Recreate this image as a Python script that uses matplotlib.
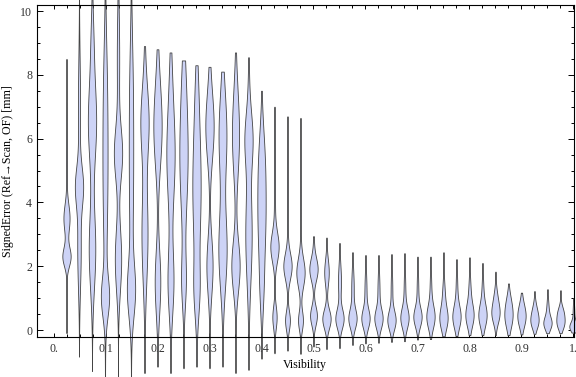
import numpy as np
import matplotlib
matplotlib.use("Agg")
import matplotlib.pyplot as plt

# ---- data ----
visibility = [0.025 * k for k in range(1, 41)]

err_min = [-0.10, -0.85, -1.30, -1.50, -1.55, -1.55, -1.35, -1.15, -1.35, -1.20,
           -1.15, -1.20, -1.15, -1.35, -1.25, -0.90, -0.73, -0.65, -0.75, -0.52,
           -0.60, -0.57, -0.47, -0.42, -0.40, -0.37, -0.35, -0.30, -0.28, -0.20,
           -0.19, -0.16, -0.16, -0.16, -0.16, -0.14, -0.12, -0.10, -0.10, -0.08]
err_max = [8.50, 11.5, 12.0, 12.0, 12.0, 12.0, 8.90, 8.80, 8.70, 8.45,
           8.30, 8.25, 8.10, 8.70, 8.55, 7.50, 7.00, 6.70, 6.65, 2.94,
           2.90, 2.73, 2.44, 2.35, 2.35, 2.38, 2.41, 2.30, 2.30, 2.44,
           2.22, 2.28, 2.10, 1.83, 1.46, 1.17, 1.22, 1.28, 1.25, 1.00]

# density modes (location, spread, relative weight) per bin
mode1_loc = [2.3, 4.5, 6.5, 1.0, 5.5, 1.2, 6.5, 6.3, 5.5, 5.5,
             4.5, 6.3, 6.0, 2.0, 6.0, 3.5, 2.6, 2.0, 1.8, 1.9,
             1.8, 0.35, 0.35, 0.35, 0.35, 0.30, 0.37, 0.40, 0.40, 0.35,
             0.40, 0.45, 0.45, 0.50, 0.40, 0.35, 0.45, 0.20, 0.20, 0.10]
mode1_sd = [0.30, 0.6, 1.2, 0.6, 0.8, 0.8, 1.0, 1.2, 1.5, 1.8,
            2.0, 1.0, 1.2, 0.8, 0.8, 1.4, 0.45, 0.40, 0.45, 0.35,
            0.40, 0.30, 0.30, 0.30, 0.30, 0.30, 0.32, 0.30, 0.35, 0.35,
            0.35, 0.35, 0.35, 0.30, 0.35, 0.30, 0.30, 0.20, 0.20, 0.15]
mode1_w = [1.0, 1.0, 1.0, 1.0, 1.0, 1.0, 1.0, 1.0, 1.0, 1.0,
           1.0, 1.0, 0.9, 1.0, 1.0, 1.0, 1.0, 1.0, 1.0, 1.0,
           0.5, 1.0, 1.0, 1.0, 1.0, 1.0, 1.0, 1.0, 1.0, 1.0,
           1.0, 1.0, 1.0, 1.0, 1.0, 1.0, 1.0, 1.0, 1.0, 1.0]
mode2_loc = [3.5, 2.5, 2.5, 5.0, 2.2, 5.0, 3.0, 1.5, 1.5, 1.5,
             1.2, 2.0, 2.5, 6.0, 3.0, 5.5, 0.4, 0.3, 0.3, 0.45,
             0.35, 1.5, 1.3, 1.2, 1.2, 1.2, 1.2, 1.2, 1.2, 1.1,
             1.2, 1.2, 1.2, 1.0, 0.9, 0.7, 0.2, 0.6, 0.55, 0.5]
mode2_sd = [0.45, 1.2, 1.2, 2.5, 1.0, 2.5, 1.5, 1.0, 1.0, 0.8,
            0.8, 0.9, 1.2, 1.2, 1.5, 1.0, 0.35, 0.30, 0.30, 0.30,
            0.30, 0.5, 0.5, 0.5, 0.5, 0.5, 0.5, 0.5, 0.5, 0.4,
            0.5, 0.4, 0.4, 0.3, 0.3, 0.3, 0.2, 0.3, 0.2, 0.3]
mode2_w = [0.75, 0.5, 0.8, 0.7, 0.8, 0.6, 0.8, 0.7, 0.7, 0.5,
           0.5, 0.8, 1.0, 0.8, 0.9, 0.5, 0.55, 0.6, 0.6, 0.85,
           1.0, 0.35, 0.3, 0.25, 0.25, 0.2, 0.2, 0.2, 0.2, 0.3,
           0.2, 0.25, 0.2, 0.4, 0.4, 0.5, 0.5, 0.3, 0.8, 0.2]
mode3_loc = [5.3, 7.0, 9.0, 8.0, 8.5, 8.0, 8.0, 8.0, 8.0, 8.0,
             7.5, 7.5, 7.5, 7.5, 7.5, 1.2, 4.5, 4.0, 4.0, 2.6,
             2.0, 2.0, 2.0, 2.0, 2.0, 2.0, 2.0, 2.0, 2.0, 2.0,
             2.0, 2.0, 2.0, 1.5, 1.2, 1.0, 1.0, 1.0, 1.0, 0.8]
mode3_sd = [0.6, 1.5, 1.0, 1.5, 1.5, 1.5, 1.0, 1.0, 1.0, 1.0,
            1.0, 1.0, 1.0, 1.0, 1.0, 0.8, 1.5, 1.5, 1.5, 0.5,
            0.5, 0.5, 0.5, 0.5, 0.5, 0.5, 0.5, 0.5, 0.5, 0.5,
            0.5, 0.5, 0.5, 0.4, 0.3, 0.3, 0.3, 0.3, 0.3, 0.3]
mode3_w = [0.12, 0.3, 0.3, 0.2, 0.3, 0.2, 0.15, 0.15, 0.15, 0.15,
           0.15, 0.15, 0.15, 0.15, 0.15, 0.3, 0.15, 0.1, 0.08, 0.1,
           0.05, 0.03, 0.03, 0.03, 0.03, 0.03, 0.03, 0.03, 0.03, 0.03,
           0.03, 0.03, 0.03, 0.03, 0.03, 0.03, 0.03, 0.03, 0.03, 0.03]

x_ticks = [0.0, 0.1, 0.2, 0.3, 0.4, 0.5, 0.6, 0.7, 0.8, 0.9, 1.0]
x_ticklabels = ["0.", "0.1", "0.2", "0.3", "0.4", "0.5", "0.6", "0.7", "0.8", "0.9", "1."]
y_ticks = [0, 2, 4, 6, 8, 10]
y_ticklabels = ["0", "2", "4", "6", "8", "10"]

# ---- style ----
plt.rcParams['font.family'] = ['Liberation Serif', 'DejaVu Serif']
FS = 8.6
fill_col = "#cdd3f6"
edge_col = "#444444"
half_width = 0.0080

fig = plt.figure(figsize=(5.76, 3.77), dpi=100)
ax = fig.add_axes([36.5 / 576, 1 - 337 / 377, (574 - 36.5) / 576, (337 - 4.5) / 377])

for i, v in enumerate(visibility):
    y = np.linspace(err_min[i], err_max[i], 500)
    dens = (mode1_w[i] * np.exp(-0.5 * ((y - mode1_loc[i]) / mode1_sd[i]) ** 2)
            + mode2_w[i] * np.exp(-0.5 * ((y - mode2_loc[i]) / mode2_sd[i]) ** 2)
            + mode3_w[i] * np.exp(-0.5 * ((y - mode3_loc[i]) / mode3_sd[i]) ** 2))
    d = dens / dens.max() * half_width
    ax.fill_betweenx(y, v - d, v + d, facecolor=fill_col,
                     edgecolor=edge_col, linewidth=0.6, clip_on=False, zorder=2)

ax.set_xlim(-0.0327, 1.001)
ax.set_ylim(-0.219, 10.204)

ax.set_xticks(x_ticks)
ax.set_xticklabels(x_ticklabels, fontsize=FS, color="#333333")
ax.set_xticks(np.arange(0, 1.0001, 0.025), minor=True)
ax.set_yticks(y_ticks)
ax.set_yticklabels(y_ticklabels, fontsize=FS, color="#333333")
ax.set_yticks(np.arange(0, 10.01, 0.5), minor=True)

ax.tick_params(which='both', direction='in', top=True, right=True, width=0.7, color='black')
ax.tick_params(which='major', axis='y', length=4.2, pad=3.2)
ax.tick_params(which='minor', axis='y', length=2.3)
ax.tick_params(which='major', axis='x', length=2.6, pad=4)
ax.tick_params(which='minor', axis='x', length=2.3)

for s in ax.spines.values():
    s.set_linewidth(0.8)
    s.set_zorder(3)

ax.set_xlabel("Visibility", fontsize=FS, labelpad=3)
ax.set_ylabel("SignedError (Ref\u2192Scan, OF) [mm]", fontsize=FS, labelpad=4)

fig.savefig("out.png", dpi=100)
